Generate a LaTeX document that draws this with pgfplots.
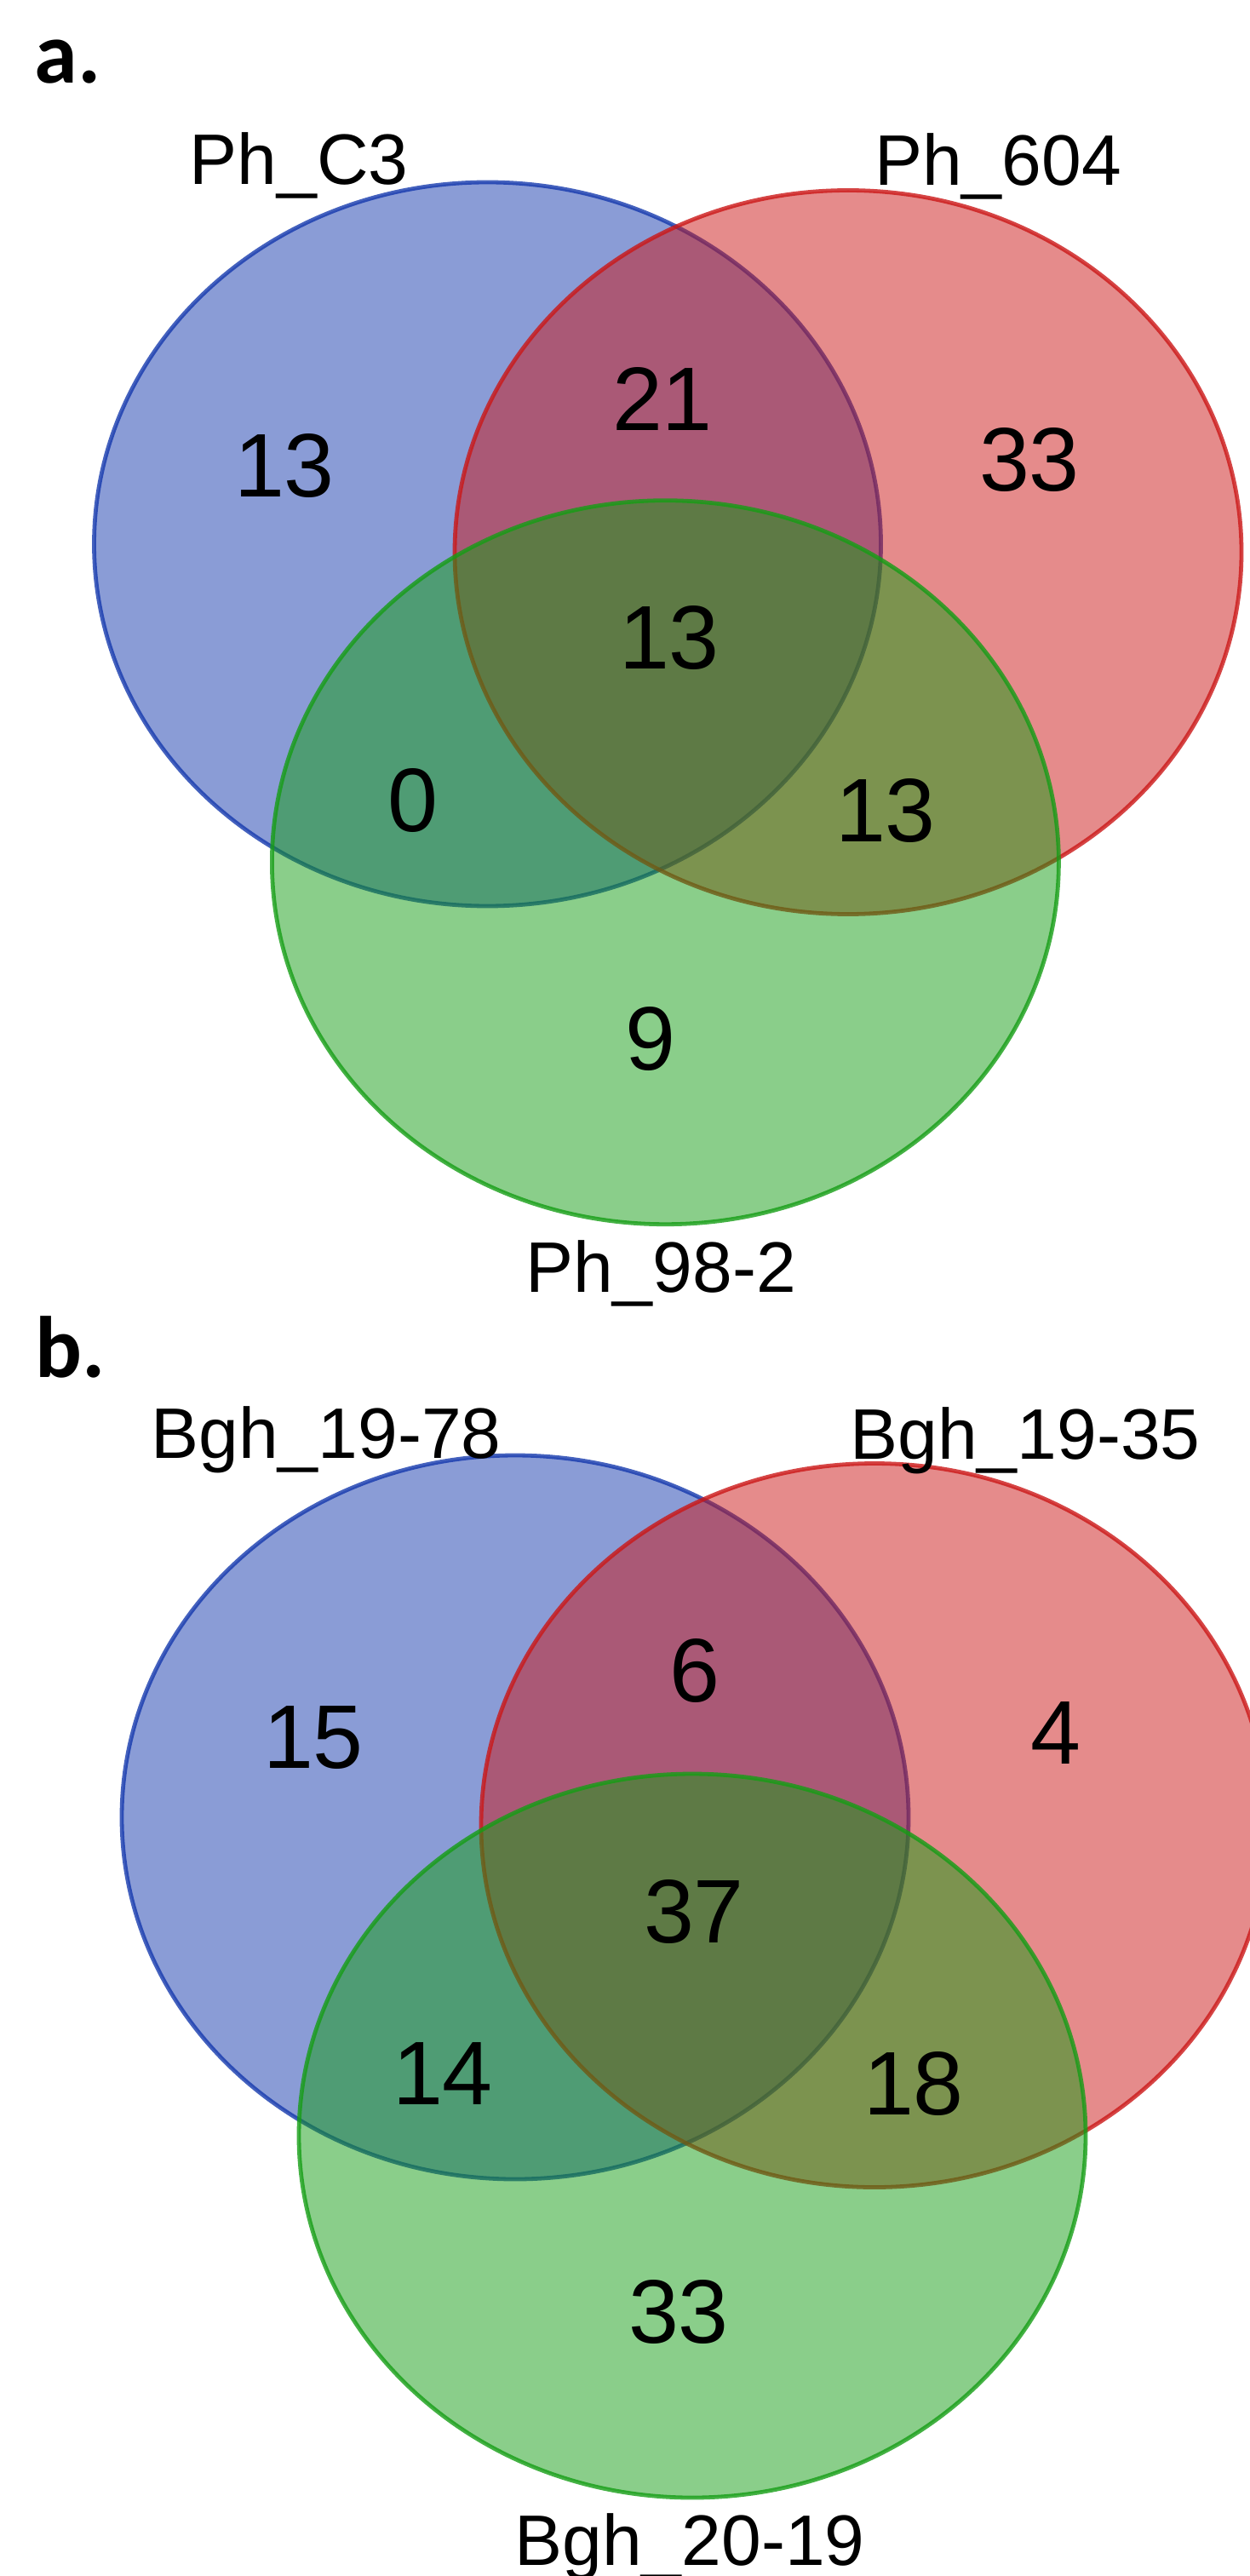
\documentclass[border=0pt]{standalone}
\usepackage{fontspec}
\setmainfont{Liberation Sans}
\newfontfamily\calibri{Carlito}
\usepackage{pgfplots}
\usepackage{pgfplotstable}
\pgfplotsset{compat=1.18}
\definecolor{vb}{RGB}{21,57,173}
\definecolor{vr}{RGB}{203,23,23}
\definecolor{vg}{RGB}{21,157,21}
\newcommand\numfont{\fontsize{26.5bp}{30bp}\selectfont}
\newcommand\labfont{\fontsize{21bp}{25bp}\selectfont}

% region counts, panel a and panel b (x, y in picture pixels, y downwards)
\pgfplotstableread{
x y lab
334 547 13
778 468 21
1209 540 33
786 749 13
485 940 0
1040 952 13
764 1220 9
}\countsA
\pgfplotstableread{
x y lab
368 2041 15
816 1962 6
1240 2035 4
815 2245 37
520 2435 14
1073 2447 18
797 2715 33
}\countsB

\tikzset{vset/.style={line width=1.2bp, draw opacity=0.8, fill opacity=0.5, draw=#1, fill=#1}}

\begin{document}
\begin{tikzpicture}
\begin{axis}[width=367bp,height=756.25bp,scale only axis,
  xmin=0,xmax=1468,ymin=0,ymax=3025,y dir=reverse,hide axis,clip=false]
% panel a
\draw[vset=vb] (axis cs:572.5,639) ellipse [x radius=115.5bp, y radius=106.25bp];
\draw[vset=vr] (axis cs:996,648.5) ellipse [x radius=115.5bp, y radius=106.25bp];
\draw[vset=vg] (axis cs:781.4,1012.7) ellipse [x radius=115.5bp, y radius=106.25bp];
% panel b
\draw[vset=vb] (axis cs:605,2134) ellipse [x radius=115.5bp, y radius=106.25bp];
\draw[vset=vr] (axis cs:1027,2143.5) ellipse [x radius=115.5bp, y radius=106.25bp];
\draw[vset=vg] (axis cs:813,2508) ellipse [x radius=115.5bp, y radius=106.25bp];

\addplot[draw=none, mark=none, nodes near coords, point meta=explicit symbolic,
  every node near coord/.style={anchor=center, font=\numfont, text=black, inner sep=0pt}]
  table[x=x,y=y,meta=lab] {\countsA};
\addplot[draw=none, mark=none, nodes near coords, point meta=explicit symbolic,
  every node near coord/.style={anchor=center, font=\numfont, text=black, inner sep=0pt}]
  table[x=x,y=y,meta=lab] {\countsB};

\node[anchor=base west, inner sep=0pt, font=\calibri\bfseries\fontsize{25.6bp}{30bp}\selectfont] at (axis cs:40,98) {a.};
\node[anchor=base west, inner sep=0pt, font=\calibri\bfseries\fontsize{25.6bp}{30bp}\selectfont] at (axis cs:41,1617) {b.};

\node[anchor=base, inner sep=0pt, font=\labfont] at (axis cs:351,217) {Ph\_C3};
\node[anchor=base, inner sep=0pt, font=\labfont] at (axis cs:1172,218) {Ph\_604};
\node[anchor=base, inner sep=0pt, font=\labfont] at (axis cs:776,1517) {Ph\_98-2};
\node[anchor=base, inner sep=0pt, font=\labfont] at (axis cs:383,1712) {Bgh\_19-78};
\node[anchor=base, inner sep=0pt, font=\labfont] at (axis cs:1204,1713) {Bgh\_19-35};
\node[anchor=base, inner sep=0pt, font=\labfont] at (axis cs:810,3012) {Bgh\_20-19};
\end{axis}
\pgfresetboundingbox
\path[use as bounding box] (current axis.south west) rectangle (current axis.north east);
\end{tikzpicture}
\end{document}
